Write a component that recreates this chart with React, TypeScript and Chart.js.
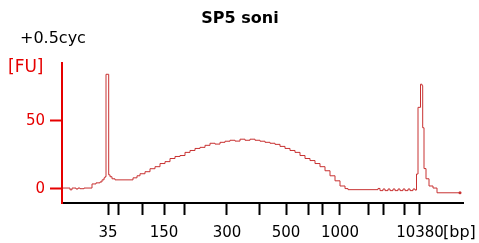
import React, { useEffect, useRef } from 'react';
import { Chart, registerables } from 'chart.js';

Chart.register(...registerables);

// Ladder sizes (bp) and their migration times (s)
const ladderSizes = [35, 50, 100, 150, 200, 300, 400, 500, 600, 700, 1000, 2000, 3000, 7000, 10380];
const ladderTimes = [24.6, 25.6, 28.0, 30.2, 32.2, 36.5, 39.8, 42.4, 44.6, 46.0, 47.8, 50.6, 52.1, 54.2, 55.8];
const labeledSizes = [35, 150, 300, 500, 1000, 10380];
const yTickValues = [0, 50];

// Electropherogram trace: migration time (s) and fluorescence (FU)
const times = [
  20.1, 20.6, 20.8, 21.0, 21.4, 21.6, 21.8, 22.2, 23.0, 23.4, 23.8, 24.0, 24.2, 24.3,
  24.4, 24.67, 24.8, 25.0, 25.3, 27.1, 27.5, 27.8, 28.3, 28.8, 29.3, 29.8, 30.3, 30.8,
  31.3, 31.8, 32.3, 32.8, 33.3, 33.8, 34.3, 34.8, 35.3, 35.8, 36.3, 36.8, 37.3, 37.8,
  38.3, 38.8, 39.3, 39.8, 40.3, 40.8, 41.3, 41.8, 42.3, 42.8, 43.3, 43.8, 44.3, 44.8,
  45.3, 45.8, 46.3, 46.8, 47.3, 47.8, 48.3, 48.6, 51.4, 51.6, 51.8, 52.1, 52.3, 52.6,
  52.8, 53.1, 53.3, 53.6, 53.8, 54.1, 54.3, 54.6, 54.8, 55.1, 55.3, 55.45, 55.6, 55.85,
  56.0, 56.07, 56.2, 56.4, 56.7, 57.1, 57.5, 59.8,
];
const fu = [
  0.7, 0.7, -0.6, 0.7, 0, 0.7, 0.2, 0.7, 3.7, 4.5, 5.2, 6.7, 8.2, 9.0,
  84.3, 10.4, 9.0, 7.5, 6.7, 8.2, 9.7, 11.2, 12.7, 14.9, 16.4, 18.7, 20.1, 22.4,
  23.9, 24.6, 26.9, 28.3, 29.8, 30.6, 32.1, 33.6, 33.0, 34.3, 35.1, 35.8, 35.2, 36.6,
  35.8, 36.6, 35.8, 35.1, 34.3, 33.6, 32.8, 31.3, 29.8, 28.3, 26.9, 24.6, 22.4, 20.9,
  18.7, 16.4, 13.4, 9.7, 6.0, 2.2, 0.3, -0.5, -0.5, 0.4, -1.2, 0, -1.2, 0,
  -1.2, 0, -1.2, 0, -1.2, 0, -1.2, 0, -1.2, 0, -0.8, 11, 60, 77,
  76, 45, 15, 7.5, 2.2, 0.7, -2.8, -2.8,
];

const RED = '#e60000';
const LINE = '#c83232';
const FONT = 'DejaVu Sans';

const textPlugin = {
  id: 'textPlugin',
  afterDraw(chart: any) {
    const ctx = chart.ctx;
    ctx.save();
    ctx.textBaseline = 'alphabetic';
    ctx.fillStyle = '#000';
    ctx.font = `bold 16px "${FONT}"`;
    ctx.textAlign = 'center';
    ctx.fillText('SP5 soni', 240, 23);
    ctx.textAlign = 'left';
    ctx.font = `16px "${FONT}"`;
    ctx.fillText('+0.5cyc', 20, 43);
    ctx.fillStyle = RED;
    ctx.font = `17px "${FONT}"`;
    ctx.fillText('[FU]', 8, 72);
    ctx.fillStyle = '#000';
    ctx.font = `16px "${FONT}"`;
    ctx.fillText('[bp]', 443, 237);
    ctx.restore();
  },
};

export default function App() {
  const ref = useRef<HTMLCanvasElement | null>(null);
  useEffect(() => {
    if (!ref.current) return;
    const last = times.length - 1;
    const chart = new Chart(ref.current, {
      type: 'line',
      data: {
        datasets: [
          {
            data: times.map((t, i) => ({ x: t, y: fu[i] })),
            borderColor: LINE,
            backgroundColor: LINE,
            borderWidth: 1,
            stepped: 'before',
            pointRadius: (c: any) => (c.dataIndex === last ? 1.5 : 0),
            pointBorderWidth: 0,
            fill: false,
          },
        ],
      },
      options: {
        animation: false,
        responsive: true,
        maintainAspectRatio: false,
        layout: { padding: { top: 63, right: 16, left: 0, bottom: 0 } },
        plugins: { legend: { display: false }, tooltip: { enabled: false }, title: { display: false } },
        scales: {
          x: {
            type: 'linear',
            min: 20,
            max: 60.1,
            afterBuildTicks: (s: any) => {
              s.ticks = ladderTimes.map((v) => ({ value: v }));
            },
            afterFit: (s: any) => {
              s.height = 40;
            },
            ticks: {
              autoSkip: false,
              maxRotation: 0,
              minRotation: 0,
              padding: 9,
              color: '#000',
              font: { family: FONT, size: 15 },
              callback: (_v: any, i: number) =>
                labeledSizes.includes(ladderSizes[i]) ? String(ladderSizes[i]) : '',
            },
            grid: {
              drawOnChartArea: false,
              drawTicks: true,
              tickLength: 12,
              tickWidth: 2,
              tickColor: '#000',
              color: '#000',
            },
            border: { display: true, color: '#000', width: 2 },
          },
          y: {
            type: 'linear',
            min: -10.3,
            max: 92.6,
            afterBuildTicks: (s: any) => {
              s.ticks = yTickValues.map((v) => ({ value: v }));
            },
            afterFit: (s: any) => {
              s.width = 62;
            },
            ticks: {
              padding: 5,
              color: RED,
              font: { family: FONT, size: 15 },
            },
            grid: {
              drawOnChartArea: false,
              drawTicks: true,
              tickLength: 12,
              tickWidth: 2,
              tickColor: RED,
              color: RED,
            },
            border: { display: true, color: RED, width: 2 },
          },
        },
      } as any,
      plugins: [textPlugin],
    });
    return () => chart.destroy();
  }, []);
  return (
    <div style={{ position: 'fixed', left: 0, top: 0, width: 479, height: 243, background: '#fff' }}>
      <canvas ref={ref} />
    </div>
  );
}
